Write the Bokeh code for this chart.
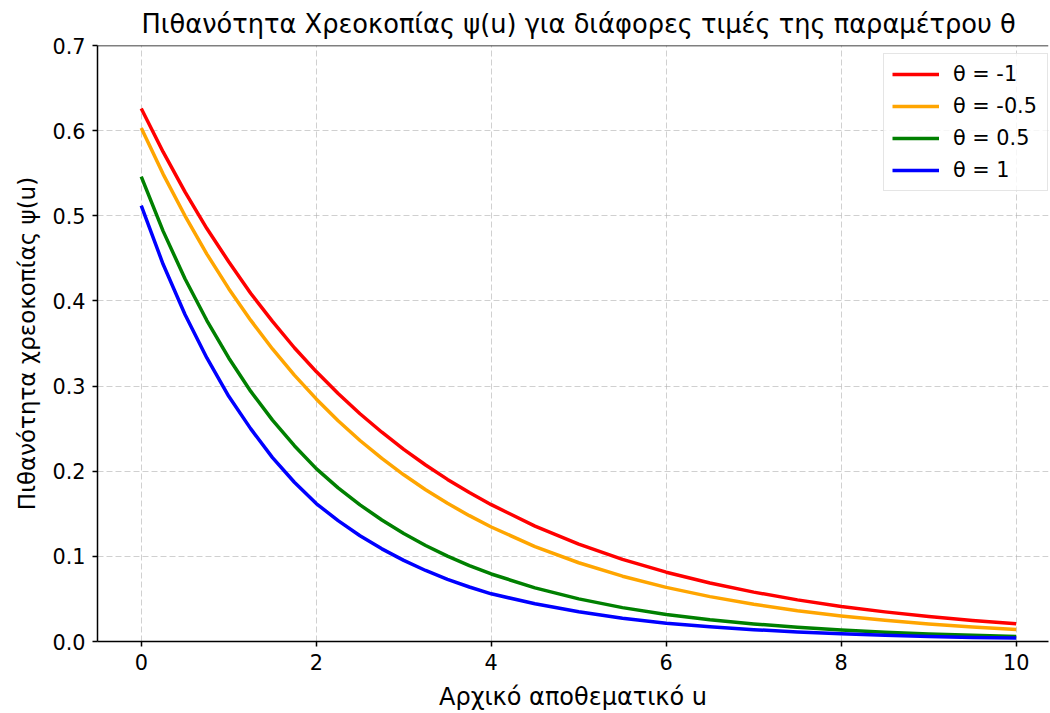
from bokeh.plotting import figure
from bokeh.models import Range1d, FixedTicker, Span, PrintfTickFormatter
from bokeh.embed import file_html
from bokeh.resources import INLINE

# Data
u = [0, 0.25, 0.5, 0.75, 1, 1.25, 1.5, 1.75, 2, 2.25, 2.5, 2.75, 3, 3.25, 3.5, 3.75, 4,
     4.5, 5, 5.5, 6, 6.5, 7, 7.5, 8, 8.5, 9, 9.5, 10]
psi_m1 = [0.626, 0.575, 0.528, 0.485, 0.446, 0.409, 0.376, 0.345, 0.317, 0.2913, 0.2675,
          0.2458, 0.2257, 0.2073, 0.1904, 0.1749, 0.1607, 0.1355, 0.1144, 0.0965, 0.0814,
          0.0687, 0.0580, 0.0489, 0.0412, 0.0348, 0.0294, 0.0248, 0.0209]
psi_m05 = [0.603, 0.549, 0.500, 0.455, 0.4144, 0.3774, 0.3436, 0.3128, 0.2849, 0.2593, 0.2361,
           0.2150, 0.1958, 0.1783, 0.1623, 0.1478, 0.1345, 0.1115, 0.0925, 0.0767, 0.0636,
           0.0527, 0.0437, 0.0362, 0.0300, 0.0249, 0.0206, 0.0171, 0.0142]
psi_p05 = [0.546, 0.482, 0.426, 0.377, 0.333, 0.294, 0.260, 0.230, 0.203, 0.1805, 0.1605,
           0.1427, 0.1269, 0.1128, 0.1003, 0.0892, 0.0793, 0.0630, 0.0501, 0.0398, 0.0316,
           0.0255, 0.0206, 0.0166, 0.0134, 0.0108, 0.0087, 0.0072, 0.0060]
psi_p1 = [0.512, 0.443, 0.384, 0.333, 0.288, 0.250, 0.216, 0.187, 0.162, 0.1419, 0.1242,
          0.1088, 0.0953, 0.0834, 0.0730, 0.0640, 0.0560, 0.0443, 0.0350, 0.0274, 0.0214,
          0.0173, 0.0139, 0.0112, 0.0090, 0.0073, 0.0059, 0.0048, 0.0040]

series = [
    (psi_m1, "red", "θ = -1"),
    (psi_m05, "orange", "θ = -0.5"),
    (psi_p05, "green", "θ = 0.5"),
    (psi_p1, "blue", "θ = 1"),
]
x_ticks = [0, 2, 4, 6, 8, 10]
y_ticks = [0.0, 0.1, 0.2, 0.3, 0.4, 0.5, 0.6, 0.7]

FONT = "DejaVu Sans"

p = figure(width=1050, height=713, output_backend="svg", toolbar_location=None,
           x_range=Range1d(-0.5, 10.369), y_range=Range1d(0, 0.7),
           min_border_left=97, min_border_right=2, min_border_bottom=72, min_border_top=12)

p.title.text = "Πιθανότητα Χρεοκοπίας ψ(u) για διάφορες τιμές της παραμέτρου θ"
p.title.text_font = FONT
p.title.text_font_size = "25.7px"
p.title.text_font_style = "normal"
p.title.text_color = "black"
p.title.align = "left"
p.title.offset = 44
p.title.standoff = 13

p.outline_line_color = None
p.background_fill_color = "white"
p.border_fill_color = "white"

for ys, col, lab in series:
    p.line(u, ys, line_color=col, line_width=3.5, legend_label=lab,
           line_join="round", line_cap="butt")

for ax in (p.xaxis[0], p.yaxis[0]):
    ax.axis_line_color = "black"
    ax.axis_line_width = 1.5
    ax.major_tick_line_color = "black"
    ax.major_tick_line_width = 1.5
    ax.major_tick_out = 5
    ax.major_tick_in = 0
    ax.minor_tick_line_color = None
    ax.major_label_text_font = FONT
    ax.major_label_text_font_size = "20.8px"
    ax.major_label_text_color = "black"
    ax.axis_label_text_font = FONT
    ax.axis_label_text_font_size = "24px"
    ax.axis_label_text_font_style = "normal"
    ax.axis_label_text_color = "black"

p.yaxis.axis_label_text_font_size = "23px"
p.xaxis.ticker = FixedTicker(ticks=x_ticks)
p.yaxis.ticker = FixedTicker(ticks=y_ticks)
p.xaxis.formatter = PrintfTickFormatter(format="%d")
p.yaxis.formatter = PrintfTickFormatter(format="%.1f")
p.xaxis.axis_label = "Αρχικό αποθεματικό u"
p.yaxis.axis_label = "Πιθανότητα χρεοκοπίας ψ(u)"
p.xaxis.major_label_standoff = 7
p.yaxis.major_label_standoff = 7
p.xaxis.axis_label_standoff = 10
p.yaxis.axis_label_standoff = 9

for g in (p.xgrid[0], p.ygrid[0]):
    g.grid_line_color = "#b0b0b0"
    g.grid_line_alpha = 0.6
    g.grid_line_dash = "6 3"
    g.grid_line_width = 1

p.add_layout(Span(location=0.7, dimension="width", line_color="black", line_width=1.5))

lg = p.legend[0]
lg.location = (786, 450)
lg.label_text_font = FONT
lg.label_text_font_size = "20.8px"
lg.label_text_color = "black"
lg.glyph_width = 47
lg.glyph_height = 20
lg.label_height = 20
lg.label_width = 86
lg.spacing = 8
lg.padding = 8
lg.margin = 0
lg.label_standoff = 14
lg.border_line_color = "#cccccc"
lg.border_line_width = 1
lg.background_fill_color = "white"
lg.background_fill_alpha = 0.8

open("out.html", "w").write(file_html(p, INLINE))
